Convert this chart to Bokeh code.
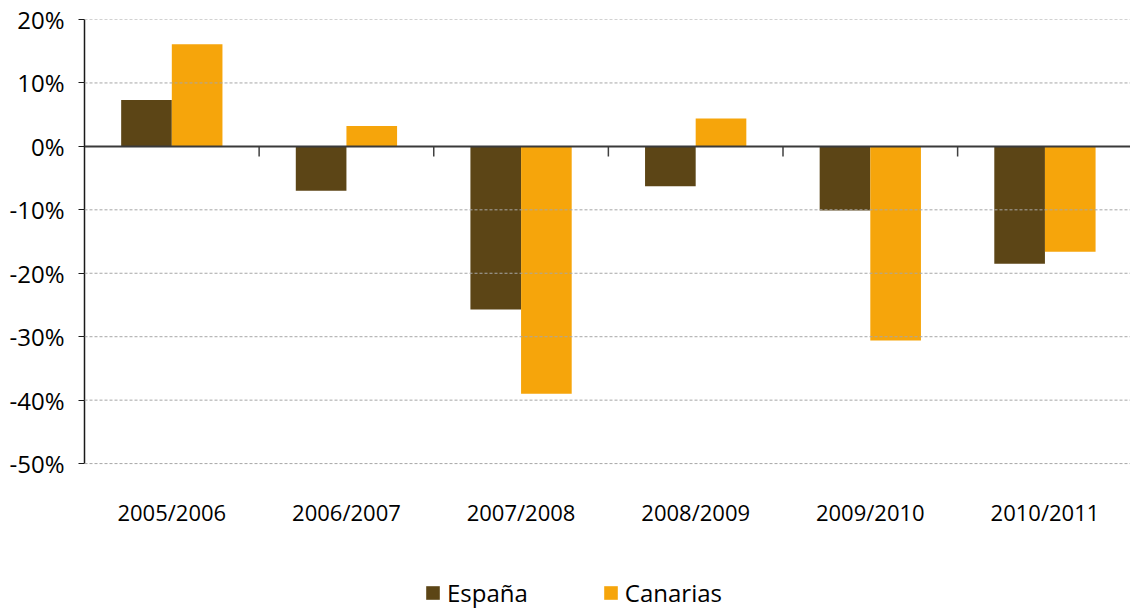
from bokeh.plotting import figure
from bokeh.models import (ColumnDataSource, Range1d, FixedTicker, Span, Legend, LegendItem,
                          LinearAxis)
from bokeh.core.properties import value
from bokeh.embed import file_html
from bokeh.resources import INLINE

# ---- data ----
categories = ["2005/2006", "2006/2007", "2007/2008", "2008/2009", "2009/2010", "2010/2011"]
espana = [7.3, -7.0, -25.7, -6.3, -10.1, -18.5]
canarias = [16.1, 3.2, -39.0, 4.4, -30.6, -16.6]
y_ticks = [-50, -40, -30, -20, -10, 0, 10, 20]
series_names = ["España", "Canarias"]
colors = ["#5C4516", "#F6A50B"]

n = len(categories)
centers = [i + 0.5 for i in range(n)]
bar_w = 0.29
y_lo, y_hi = min(y_ticks), max(y_ticks)

# frame runs from y_hi down to the figure bottom; the value axis itself spans y_lo..y_hi
p = figure(width=1130, height=609, output_backend="svg", toolbar_location=None,
           x_range=Range1d(0, 5.99), y_range=Range1d(-73.0, y_hi),
           min_border_left=84, min_border_right=0, min_border_top=19, min_border_bottom=0,
           outline_line_color=None, background_fill_color="white", border_fill_color="white")
p.xaxis.visible = False
p.yaxis.visible = False
p.xgrid.visible = False
p.ygrid.visible = False

src = ColumnDataSource(dict(
    xe=[c - bar_w / 2 for c in centers],
    xc=[c + bar_w / 2 for c in centers],
    esp=espana, can=canarias))

# horizontal dotted gridlines
for v in y_ticks:
    if v != 0:
        p.add_layout(Span(location=v, dimension="width", line_color="#A6A6A6",
                          line_dash="3 2", line_width=1))

r1 = p.vbar(x="xe", top="esp", bottom=0, width=bar_w, source=src,
            fill_color=colors[0], line_color=None)
r2 = p.vbar(x="xc", top="can", bottom=0, width=bar_w, source=src,
            fill_color=colors[1], line_color=None)

# zero line (category axis)
p.add_layout(Span(location=0, dimension="width", line_color="#3A3A3A", line_width=2))
# category boundary tick marks
bounds = list(range(1, n))
p.segment(x0=bounds, x1=bounds, y0=[0] * len(bounds), y1=[-1.6] * len(bounds),
          line_color="#404040", line_width=1.5)

# category labels under the plot area
p.text(x=centers, y=[y_lo] * n, text=categories, text_align="center",
       text_baseline="middle", y_offset=48, text_font=value("Open Sans"),
       text_font_size="22px", text_color="black")

# y axis
yax = LinearAxis(ticker=FixedTicker(ticks=y_ticks), bounds=(y_lo, y_hi),
                 major_label_overrides={v: f"{v}%" for v in y_ticks})
yax.axis_line_color = "#1a1a1a"
yax.axis_line_width = 1.5
yax.major_tick_line_color = "#1a1a1a"
yax.major_tick_in = 0
yax.major_tick_out = 6
yax.minor_tick_line_color = None
yax.major_label_standoff = 14
yax.major_label_text_font = "Open Sans"
yax.major_label_text_font_size = "24px"
yax.major_label_text_color = "black"
p.add_layout(yax, "left")

legend = Legend(items=[LegendItem(label=series_names[0], renderers=[r1]),
                       LegendItem(label=series_names[1], renderers=[r2])],
                orientation="horizontal", location=(340, 0),
                glyph_width=17, glyph_height=17, label_text_font="Open Sans",
                label_text_font_size="24px", label_standoff=6, spacing=74,
                padding=0, margin=0, border_line_color=None,
                background_fill_alpha=0, label_text_color="black")
p.add_layout(legend, "center")

open("out.html", "w").write(file_html(p, INLINE))
